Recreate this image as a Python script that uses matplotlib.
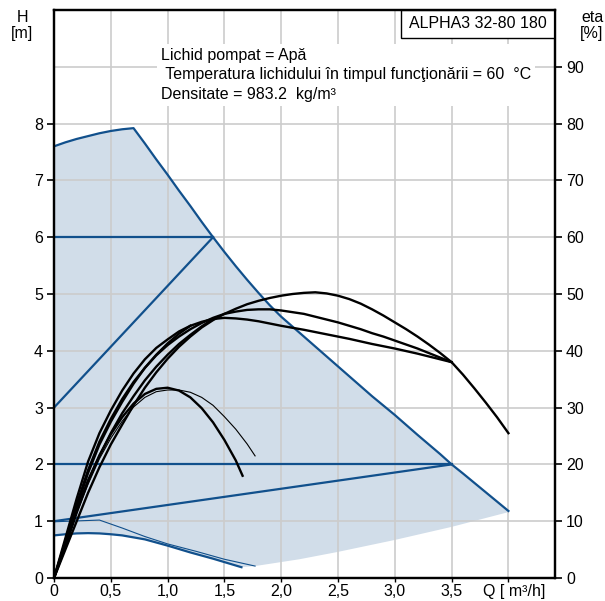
import matplotlib
matplotlib.use("Agg")
import matplotlib.pyplot as plt
from matplotlib.patches import Rectangle
from matplotlib.transforms import ScaledTranslation

plt.rcParams['font.family'] = ['Liberation Sans', 'DejaVu Sans']

blue = '#11508c'
shade = '#d1dde9'
fs = 11.5

# pump envelope (H in m)
max_q = [0, 0.1, 0.2, 0.3, 0.4, 0.5, 0.6, 0.7, 0.8, 0.9, 1.0, 1.1, 1.2, 1.3, 1.4, 1.5, 1.6, 1.7, 1.8,
         1.9, 2.0, 2.2, 2.4, 2.6, 2.8, 3.0, 3.2, 3.4, 3.5, 3.6, 3.8, 4.0]
max_h = [7.6, 7.67, 7.73, 7.78, 7.83, 7.87, 7.9, 7.92, 7.65, 7.37, 7.1, 6.82, 6.55, 6.27, 6.0, 5.74,
         5.49, 5.25, 5.02, 4.8, 4.6, 4.25, 3.9, 3.55, 3.2, 2.87, 2.52, 2.18, 2.0, 1.84, 1.51, 1.18]
low_q = [4.0, 3.5, 3.0, 2.5, 2.16, 1.77]
low_h = [1.16, 0.9, 0.67, 0.46, 0.33, 0.21]
min_q = [0, 0.1, 0.2, 0.3, 0.4, 0.5, 0.6, 0.8, 1.0, 1.2, 1.4, 1.65]
min_h = [0.75, 0.77, 0.785, 0.79, 0.785, 0.77, 0.75, 0.68, 0.57, 0.45, 0.34, 0.19]
thin_q = [0, 0.4, 0.6, 0.8, 1.0, 1.25, 1.5, 1.77]
thin_h = [0.99, 1.02, 0.88, 0.73, 0.6, 0.47, 0.33, 0.21]

# control lines
const_hi = ([0, 1.4], [6, 6])
prop_hi = ([0, 1.4], [3, 6])
const_lo = ([0, 3.5], [2, 2])
prop_lo = ([0, 3.5], [1, 2])

# efficiency curves (eta in %)
eta_a_q = [0, 0.1, 0.2, 0.3, 0.4, 0.5, 0.6, 0.7, 0.8, 0.9, 1.0, 1.1, 1.2, 1.3, 1.4, 1.5, 1.6, 1.7, 1.8,
           1.9, 2.0, 2.1, 2.2, 2.3, 2.4, 2.5, 2.6, 2.7, 2.8, 2.9, 3.0, 3.1, 3.2, 3.3, 3.4, 3.5, 3.6,
           3.7, 3.8, 3.9, 4.0]
eta_a = [0, 5, 10, 15, 19.5, 23.5, 27, 30.4, 33.5, 36.2, 38.6, 40.7, 42.5, 44.1, 45.4, 46.5, 47.4,
         48.2, 48.8, 49.3, 49.7, 50.0, 50.2, 50.3, 50.1, 49.7, 49.1, 48.3, 47.3, 46.2, 45.0, 43.8,
         42.5, 41.1, 39.6, 38.0, 35.8, 33.4, 30.9, 28.3, 25.5]
eta_b_q = [0, 0.1, 0.2, 0.3, 0.4, 0.5, 0.6, 0.7, 0.8, 0.9, 1.0, 1.1, 1.2, 1.3, 1.4, 1.5, 1.6, 1.7,
           1.8, 1.9, 2.0, 2.1, 2.2, 2.3, 2.4, 2.5, 2.6, 2.7, 2.8, 2.9, 3.0, 3.1, 3.2, 3.3, 3.4, 3.5]
eta_b = [0, 6.5, 13, 19, 24, 28, 31.5, 34.5, 37, 39.2, 41, 42.5, 43.8, 44.9, 45.8, 46.5, 46.9, 47.2,
         47.3, 47.3, 47.1, 46.8, 46.5, 46.0, 45.5, 45.0, 44.4, 43.8, 43.1, 42.5, 41.8, 41.1, 40.4,
         39.6, 38.8, 38.0]
eta_b2_q = [0, 0.1, 0.2, 0.3, 0.4, 0.5, 0.6, 0.7, 0.8, 0.9, 1.0, 1.1, 1.2, 1.3, 1.4]
eta_b2 = [0, 5.5, 11.5, 17, 21.5, 25.5, 29, 32, 34.8, 37.2, 39.3, 41.2, 42.8, 44.3, 45.6]
eta_c_q = [0, 0.1, 0.2, 0.3, 0.4, 0.5, 0.6, 0.7, 0.8, 0.9, 1.0, 1.1, 1.2, 1.3, 1.4, 1.5, 1.6, 1.7,
           1.8, 1.9, 2.0, 2.2, 2.4, 2.6, 2.8, 3.0, 3.2, 3.4, 3.5]
eta_c = [0, 7, 14, 20.5, 25.5, 29.5, 33, 36, 38.5, 40.5, 42, 43.4, 44.4, 45.1, 45.6, 45.8, 45.7,
         45.5, 45.2, 44.8, 44.4, 43.7, 42.9, 42.1, 41.2, 40.4, 39.5, 38.5, 38.0]
eta_c2_q = [0, 0.1, 0.2, 0.3, 0.4, 0.5, 0.6, 0.7, 0.8, 0.9, 1.0, 1.1, 1.2]
eta_c2 = [0, 6, 12.5, 18.5, 23.5, 27.5, 31, 34.2, 37, 39.3, 41.3, 43, 44.4]
eta_s1_q = [0, 0.1, 0.2, 0.3, 0.4, 0.5, 0.6, 0.7, 0.8, 0.9, 1.0, 1.1, 1.2, 1.3, 1.4, 1.5, 1.6, 1.66]
eta_s1 = [0, 6.2, 12, 17.2, 21.6, 25.3, 28.3, 30.7, 32.4, 33.3, 33.5, 33.0, 31.8, 29.9, 27.4, 24.3,
          20.7, 18.0]
eta_s2_q = [0, 0.1, 0.2, 0.3, 0.4, 0.5, 0.6, 0.7, 0.8, 0.9, 1.0, 1.1, 1.2, 1.3, 1.4, 1.5, 1.6, 1.7, 1.77]
eta_s2 = [0, 5.5, 11.5, 16.5, 21, 24.6, 27.6, 30.1, 31.8, 32.8, 33.1, 33.1, 32.7, 31.8, 30.4, 28.4,
          26.2, 23.6, 21.5]

x_ticks = [0, 0.5, 1.0, 1.5, 2.0, 2.5, 3.0, 3.5, 4.0]
x_labels = ['0', '0,5', '1,0', '1,5', '2,0', '2,5', '3,0', '3,5', 'Q [ m\u00b3/h]']
h_ticks = [0, 1, 2, 3, 4, 5, 6, 7, 8]
eta_ticks = [0, 10, 20, 30, 40, 50, 60, 70, 80, 90]

fig = plt.figure(figsize=(6.05, 6.01), dpi=100)
ax = fig.add_axes([54 / 605, 23 / 601, 501 / 605, 568 / 601])
ax.set_xlim(0, 4.41)
ax.set_ylim(0, 10)

# shaded working area
poly_q = max_q + low_q + min_q[::-1]
poly_h = max_h + low_h + min_h[::-1]
ax.fill(poly_q, poly_h, color=shade, lw=0, zorder=0)

ax.set_axisbelow(True)
ax.set_xticks(x_ticks)
ax.set_xticklabels(x_labels)
ax.set_yticks(h_ticks)
ax.grid(True, color='#cccccc', lw=1.2)
ax.axhline(9, color='#cccccc', lw=1.2, zorder=0.5)

ax.plot(max_q, max_h, color=blue, lw=1.6)
ax.plot(min_q, min_h, color=blue, lw=1.6)
ax.plot(thin_q, thin_h, color=blue, lw=0.8)
for q, h in [const_hi, prop_hi, const_lo, prop_lo]:
    ax.plot(q, h, color=blue, lw=1.6)

for s in ax.spines.values():
    s.set_linewidth(1.6)
ax.tick_params(axis='y', direction='out', length=5, width=1.2, pad=3, labelsize=fs)
ax.tick_params(axis='x', direction='out', length=3, width=1.0, pad=1.5, labelsize=fs)
qlab = ax.get_xticklabels()[-1]
qlab.set_transform(qlab.get_transform() + ScaledTranslation(6 / 100, 0, fig.dpi_scale_trans))

ax2 = ax.twinx()
ax2.set_ylim(0, 100)
ax2.set_yticks(eta_ticks)
ax2.tick_params(direction='out', length=5, width=1.2, pad=3, labelsize=fs)
for s in ax2.spines.values():
    s.set_linewidth(1.6)

for q, e in [(eta_a_q, eta_a), (eta_b_q, eta_b), (eta_b2_q, eta_b2),
             (eta_c_q, eta_c), (eta_c2_q, eta_c2), (eta_s1_q, eta_s1)]:
    ax2.plot(q, e, color='black', lw=1.7)
ax2.plot(eta_s2_q, eta_s2, color='black', lw=0.8)

ax.text(0.94, 8.86, 'Lichid pompat = Ap\u0103\n Temperatura lichidului \u00een timpul func\u0163ion\u0103rii = 60  \u00b0C\nDensitate = 983.2  kg/m\u00b3',
        fontsize=fs, ha='left', va='center', linespacing=1.38, zorder=5,
        bbox=dict(facecolor='white', edgecolor='none', pad=3))

ax.add_patch(Rectangle((347 / 501, 1 - 28 / 568), 154 / 501, 28 / 568, transform=ax.transAxes,
                       facecolor='white', edgecolor='black', lw=1.0, zorder=6))
ax.text(424 / 501, 1 - 14 / 568, 'ALPHA3 32-80 180', transform=ax.transAxes,
        fontsize=fs, ha='center', va='center', zorder=7)

fig.text(22 / 605, 1 - 10 / 601, 'H\n[m]', ha='center', va='top', fontsize=fs, linespacing=1.1)
fig.text(592 / 605, 1 - 10 / 601, 'eta\n[%]', ha='center', va='top', fontsize=fs, linespacing=1.1)

fig.savefig('out.png', dpi=100)
